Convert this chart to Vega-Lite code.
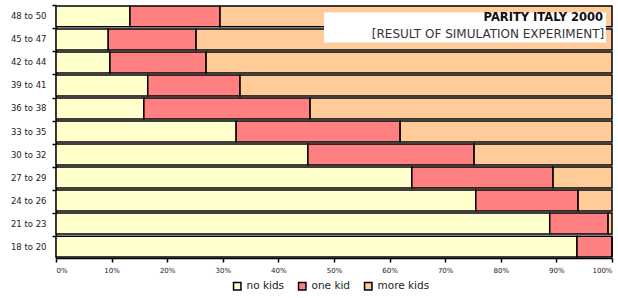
{
  "$schema": "https://vega.github.io/schema/vega-lite/v6.json",
  "width": 556,
  "height": 253,
  "autosize": {"type": "none"},
  "padding": {"left": 56, "top": 5, "right": 6, "bottom": 40},
  "background": "white",
  "config": {
    "view": {"stroke": null},
    "font": "DejaVu Sans",
    "axis": {"domainColor": "black", "tickColor": "black", "labelColor": "#222", "grid": false, "domainWidth": 1.5, "tickWidth": 1.5}
  },
  "datasets": {
    "parity": [
      {"age": "48 to 50", "kids": "no kids", "k": 1, "share": 13.3},
      {"age": "48 to 50", "kids": "one kid", "k": 2, "share": 16.2},
      {"age": "48 to 50", "kids": "more kids", "k": 3, "share": 70.5},
      {"age": "45 to 47", "kids": "no kids", "k": 1, "share": 9.4},
      {"age": "45 to 47", "kids": "one kid", "k": 2, "share": 15.8},
      {"age": "45 to 47", "kids": "more kids", "k": 3, "share": 74.8},
      {"age": "42 to 44", "kids": "no kids", "k": 1, "share": 9.7},
      {"age": "42 to 44", "kids": "one kid", "k": 2, "share": 17.3},
      {"age": "42 to 44", "kids": "more kids", "k": 3, "share": 73.0},
      {"age": "39 to 41", "kids": "no kids", "k": 1, "share": 16.5},
      {"age": "39 to 41", "kids": "one kid", "k": 2, "share": 16.6},
      {"age": "39 to 41", "kids": "more kids", "k": 3, "share": 66.9},
      {"age": "36 to 38", "kids": "no kids", "k": 1, "share": 15.8},
      {"age": "36 to 38", "kids": "one kid", "k": 2, "share": 29.9},
      {"age": "36 to 38", "kids": "more kids", "k": 3, "share": 54.3},
      {"age": "33 to 35", "kids": "no kids", "k": 1, "share": 32.4},
      {"age": "33 to 35", "kids": "one kid", "k": 2, "share": 29.5},
      {"age": "33 to 35", "kids": "more kids", "k": 3, "share": 38.1},
      {"age": "30 to 32", "kids": "no kids", "k": 1, "share": 45.3},
      {"age": "30 to 32", "kids": "one kid", "k": 2, "share": 29.9},
      {"age": "30 to 32", "kids": "more kids", "k": 3, "share": 24.8},
      {"age": "27 to 29", "kids": "no kids", "k": 1, "share": 64.0},
      {"age": "27 to 29", "kids": "one kid", "k": 2, "share": 25.4},
      {"age": "27 to 29", "kids": "more kids", "k": 3, "share": 10.6},
      {"age": "24 to 26", "kids": "no kids", "k": 1, "share": 75.5},
      {"age": "24 to 26", "kids": "one kid", "k": 2, "share": 18.4},
      {"age": "24 to 26", "kids": "more kids", "k": 3, "share": 6.1},
      {"age": "21 to 23", "kids": "no kids", "k": 1, "share": 88.8},
      {"age": "21 to 23", "kids": "one kid", "k": 2, "share": 10.5},
      {"age": "21 to 23", "kids": "more kids", "k": 3, "share": 0.7},
      {"age": "18 to 20", "kids": "no kids", "k": 1, "share": 93.7},
      {"age": "18 to 20", "kids": "one kid", "k": 2, "share": 6.3},
      {"age": "18 to 20", "kids": "more kids", "k": 3, "share": 0.0}
    ]
  },
  "layer": [
    {
      "data": {"name": "parity"},
      "mark": {"type": "bar", "stroke": "black", "strokeWidth": 1.5},
      "encoding": {
        "y": {
          "field": "age", "type": "nominal",
          "sort": ["48 to 50", "45 to 47", "42 to 44", "39 to 41", "36 to 38", "33 to 35", "30 to 32", "27 to 29", "24 to 26", "21 to 23", "18 to 20"],
          "scale": {"paddingInner": 0.09, "paddingOuter": 0.04},
          "axis": {"title": null, "bandPosition": 0, "tickSize": 4, "labelFontSize": 8.5, "labelPadding": 6}
        },
        "x": {
          "field": "share", "type": "quantitative", "stack": "normalize",
          "scale": {"domain": [0, 1], "nice": false},
          "axis": {"title": null, "format": ".0%", "values": [0, 0.1, 0.2, 0.3, 0.4, 0.5, 0.6, 0.7, 0.8, 0.9, 1], "tickSize": 4, "labelFontSize": 7, "labelPadding": 4}
        },
        "color": {
          "field": "kids", "type": "nominal",
          "scale": {"domain": ["no kids", "one kid", "more kids"], "range": ["#FFFFCC", "#FF8080", "#FFCC99"]},
          "legend": {"title": null, "orient": "none", "legendX": 176, "legendY": 276, "direction": "horizontal", "symbolType": "square", "symbolSize": 55, "symbolStrokeColor": "black", "symbolStrokeWidth": 1.5, "labelFontSize": 10.5, "labelColor": "#222", "labelOffset": 4, "columnPadding": 10}
        },
        "order": {"field": "k", "type": "quantitative"}
      }
    },
    {
      "data": {"values": [{"box": 1}]},
      "mark": {"type": "rect", "fill": "white"},
      "encoding": {
        "x": {"datum": 0.482, "type": "quantitative"},
        "x2": {"datum": 0.989},
        "y": {"datum": "48 to 50", "type": "nominal", "bandPosition": 0.3},
        "y2": {"datum": "45 to 47", "bandPosition": 0.65}
      }
    },
    {
      "data": {"values": [{"line": "PARITY ITALY 2000"}]},
      "mark": {"type": "text", "align": "right", "baseline": "middle", "fontWeight": "bold", "fontSize": 11.5, "color": "#111"},
      "encoding": {
        "x": {"datum": 0.984, "type": "quantitative"},
        "y": {"datum": "48 to 50", "type": "nominal", "bandPosition": 0.6},
        "text": {"field": "line"}
      }
    },
    {
      "data": {"values": [{"line": "[RESULT OF SIMULATION EXPERIMENT]"}]},
      "mark": {"type": "text", "align": "right", "baseline": "middle", "fontSize": 12, "color": "#333"},
      "encoding": {
        "x": {"datum": 0.986, "type": "quantitative"},
        "y": {"datum": "45 to 47", "type": "nominal", "bandPosition": 0.22},
        "text": {"field": "line"}
      }
    }
  ]
}
